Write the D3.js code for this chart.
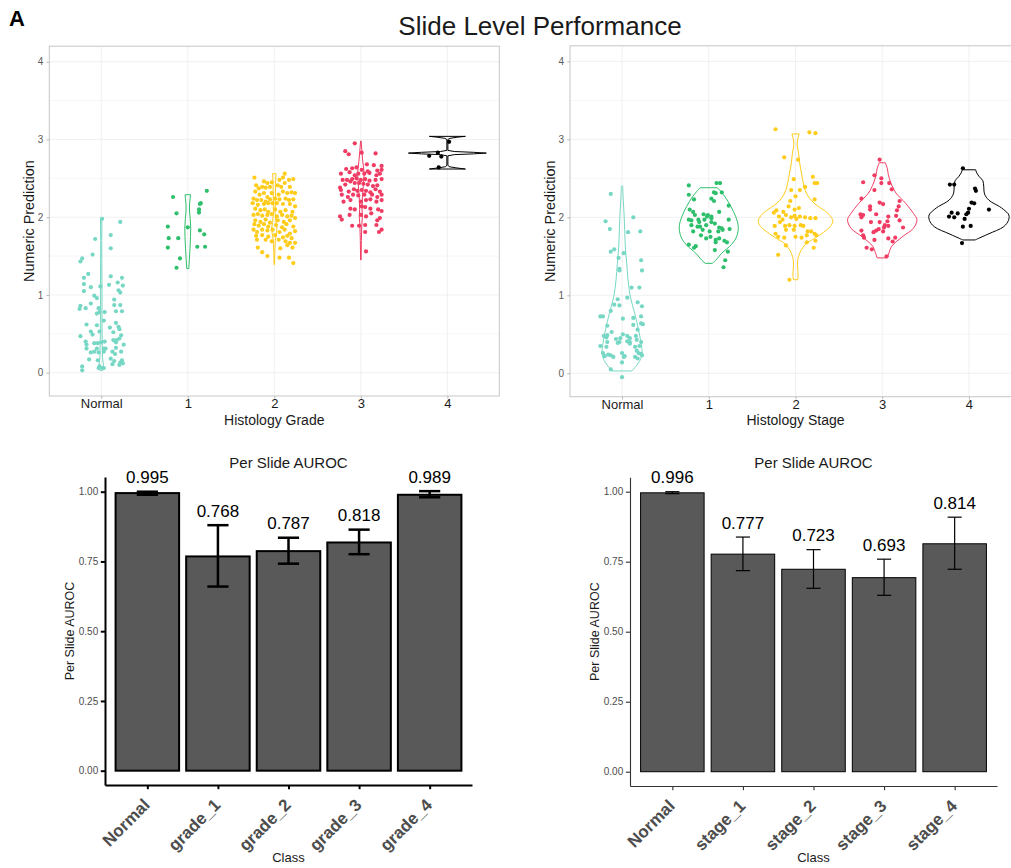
<!DOCTYPE html>
<html>
<head>
<meta charset="utf-8">
<script src="https://cdn.jsdelivr.net/npm/d3@7"></script>
<style>
body { margin: 0; background: #fff; }
svg { font-family: "Liberation Sans", Arial, Helvetica, sans-serif; }
</style>
</head>
<body>
<svg id="fig" width="1011" height="868"></svg>
<script>
// categories and colours
var violinCats = ['Normal', '1', '2', '3', '4'];
var groupColors = ['#76D7C4', '#2EBF6C', '#FFCC1C', '#F03C63', '#000000'];

// jittered points: [x jitter in category units, numeric prediction]
var gradeNormalPts = [[0.01,1.98],[0.22,1.94],[0.11,1.77],[-0.07,1.72],[0.11,1.60],[-0.10,1.52],[-0.22,1.47],[-0.24,1.43],[-0.15,1.27],[-0.20,1.22],[0.11,1.24],[0.24,1.22],[0.19,1.16],[-0.20,1.14],[-0.12,1.10],[-0.01,1.11],[0.09,1.13],[0.25,1.12],[-0.20,1.05],[-0.08,0.99],[-0.05,0.96],[0.20,1.06],[0.22,1.03],[0.15,0.94],[-0.24,0.86],[-0.25,0.82],[-0.18,0.83],[-0.12,0.89],[-0.03,0.83],[0.15,0.87],[0.22,0.87],[0.17,0.79],[0.24,0.79],[-0.05,0.76],[-0.02,0.78],[0.04,0.78],[-0.05,0.61],[0.03,0.67],[-0.17,0.62],[0.10,0.58],[0.17,0.64],[0.20,0.59],[0.21,0.56],[-0.24,0.47],[-0.12,0.53],[-0.10,0.49],[-0.02,0.53],[0.14,0.52],[0.23,0.48],[0.21,0.44],[0.18,0.42],[-0.18,0.40],[-0.17,0.36],[-0.08,0.38],[-0.04,0.38],[0.00,0.39],[0.04,0.40],[0.14,0.42],[0.17,0.39],[-0.17,0.31],[-0.05,0.31],[0.03,0.31],[0.05,0.31],[0.17,0.32],[0.26,0.36],[0.23,0.27],[-0.08,0.27],[-0.03,0.26],[0.03,0.27],[-0.12,0.26],[0.13,0.27],[0.16,0.24],[-0.14,0.17],[-0.04,0.16],[0.11,0.18],[0.15,0.15],[0.24,0.16],[0.22,0.13],[0.25,0.12],[-0.03,0.06],[-0.02,0.08],[0.01,0.06],[0.03,0.06],[0.13,0.11],[0.21,0.10],[-0.22,0.08],[-0.22,0.03]];
var grade1Pts = [[-0.17,2.26],[0.22,2.34],[0.14,2.17],[0.15,2.18],[0.13,2.10],[0.13,2.06],[-0.13,2.05],[-0.23,1.88],[0.00,1.87],[0.14,1.83],[0.19,1.78],[-0.22,1.73],[-0.11,1.73],[0.11,1.62],[0.20,1.62],[-0.23,1.61],[-0.09,1.47],[-0.13,1.35]];
var grade2Pts = [[-0.23,2.51],[-0.12,2.46],[-0.08,2.44],[-0.03,2.45],[0.06,2.48],[0.10,2.51],[0.12,2.56],[0.17,2.48],[0.22,2.49],[-0.21,2.41],[-0.18,2.37],[-0.14,2.39],[-0.10,2.38],[-0.05,2.39],[0.04,2.41],[0.08,2.39],[0.12,2.44],[0.18,2.39],[-0.22,2.33],[-0.17,2.29],[-0.12,2.31],[-0.08,2.26],[-0.03,2.31],[0.05,2.29],[0.10,2.33],[0.15,2.31],[0.20,2.32],[0.24,2.31],[-0.24,2.24],[-0.20,2.22],[-0.15,2.22],[-0.10,2.20],[-0.05,2.23],[0.01,2.24],[0.06,2.23],[0.13,2.24],[0.17,2.22],[0.22,2.23],[-0.25,2.18],[-0.19,2.16],[-0.12,2.17],[-0.07,2.18],[-0.02,2.18],[0.03,2.18],[0.10,2.17],[0.18,2.17],[0.24,2.14],[-0.22,2.11],[-0.16,2.09],[-0.11,2.10],[-0.07,2.07],[0.01,2.10],[0.07,2.07],[0.13,2.09],[0.21,2.07],[-0.24,2.03],[-0.19,2.04],[-0.14,2.02],[-0.08,2.03],[-0.03,2.04],[0.03,2.01],[0.09,2.03],[0.15,2.01],[0.20,2.02],[-0.22,1.96],[-0.16,1.94],[-0.10,1.97],[-0.05,1.93],[0.04,1.96],[0.11,1.94],[0.18,1.96],[0.24,1.99],[-0.23,1.91],[-0.18,1.89],[-0.12,1.91],[-0.07,1.88],[0.02,1.90],[0.09,1.87],[0.14,1.91],[0.22,1.88],[-0.24,1.84],[-0.20,1.81],[-0.14,1.84],[-0.08,1.83],[-0.02,1.84],[0.06,1.81],[0.12,1.84],[0.18,1.79],[0.24,1.82],[-0.21,1.76],[-0.14,1.77],[-0.07,1.75],[0.01,1.77],[0.10,1.74],[0.15,1.76],[0.20,1.73],[0.24,1.67],[-0.20,1.71],[-0.10,1.71],[-0.03,1.69],[0.05,1.71],[0.13,1.69],[0.18,1.67],[-0.19,1.61],[0.07,1.60],[0.15,1.64],[0.21,1.61],[-0.14,1.55],[-0.08,1.50],[0.06,1.48],[0.17,1.48],[0.22,1.41]];
var grade3Pts = [[-0.07,2.95],[-0.18,2.85],[-0.14,2.81],[0.01,2.83],[0.17,2.82],[0.07,2.68],[0.15,2.67],[0.24,2.66],[-0.17,2.62],[-0.10,2.63],[-0.05,2.64],[0.01,2.61],[0.08,2.59],[0.19,2.60],[0.24,2.61],[-0.23,2.56],[-0.13,2.58],[-0.07,2.54],[-0.03,2.56],[0.04,2.56],[0.10,2.57],[0.18,2.54],[0.22,2.56],[-0.21,2.48],[-0.16,2.48],[-0.10,2.49],[-0.05,2.50],[0.00,2.48],[0.05,2.49],[0.10,2.47],[0.17,2.48],[0.24,2.49],[-0.24,2.38],[-0.18,2.42],[-0.12,2.46],[-0.07,2.44],[-0.02,2.44],[0.03,2.43],[0.08,2.42],[0.14,2.40],[0.19,2.41],[-0.23,2.35],[-0.14,2.33],[-0.08,2.36],[-0.04,2.34],[0.01,2.35],[0.06,2.34],[0.11,2.32],[0.17,2.36],[0.22,2.33],[-0.22,2.29],[-0.15,2.26],[-0.09,2.29],[-0.03,2.28],[0.04,2.29],[0.13,2.29],[0.19,2.26],[0.24,2.29],[-0.20,2.20],[-0.12,2.22],[0.00,2.20],[0.06,2.22],[0.11,2.23],[0.18,2.20],[0.24,2.22],[-0.12,2.11],[-0.07,2.10],[0.01,2.14],[0.05,2.13],[0.11,2.11],[0.20,2.10],[0.24,2.08],[-0.24,2.01],[-0.22,1.97],[-0.13,2.03],[0.00,2.03],[0.06,2.01],[0.12,2.05],[0.19,1.96],[0.22,1.99],[-0.10,1.89],[-0.02,1.89],[0.05,1.90],[0.18,1.90],[0.05,1.81],[0.21,1.81],[0.24,1.84],[0.06,1.56]];
var grade4Pts = [[-0.21,2.79],[-0.11,2.83],[-0.07,2.78],[0.02,2.97],[-0.10,2.64]];

var stageNormalPts = [[-0.13,2.30],[0.13,2.00],[-0.19,1.95],[-0.14,1.85],[0.07,1.81],[0.21,1.82],[-0.13,1.56],[-0.09,1.59],[0.02,1.54],[-0.04,1.48],[0.22,1.45],[-0.03,1.34],[-0.03,1.32],[0.23,1.32],[0.11,1.10],[0.20,1.10],[-0.05,0.95],[0.06,0.97],[-0.09,0.88],[-0.03,0.87],[0.18,0.91],[0.23,0.86],[-0.13,0.80],[-0.22,0.73],[-0.25,0.73],[0.13,0.71],[0.22,0.73],[0.01,0.70],[0.22,0.64],[0.24,0.63],[-0.17,0.61],[0.13,0.62],[-0.12,0.53],[-0.21,0.48],[-0.18,0.46],[0.01,0.50],[0.06,0.48],[0.09,0.45],[0.18,0.56],[0.16,0.48],[-0.07,0.44],[-0.02,0.45],[-0.03,0.40],[-0.25,0.35],[-0.17,0.40],[-0.05,0.39],[0.06,0.41],[0.09,0.40],[0.17,0.43],[0.22,0.40],[0.20,0.35],[-0.22,0.26],[-0.20,0.22],[-0.16,0.24],[-0.10,0.21],[-0.13,0.23],[0.00,0.26],[0.03,0.22],[0.02,0.21],[0.17,0.29],[0.19,0.26],[0.22,0.25],[0.15,0.21],[0.23,0.23],[0.18,0.19],[-0.13,0.05],[0.00,0.14],[0.00,-0.05],[-0.18,0.34],[-0.17,0.49],[0.09,0.38],[0.15,0.34]];
var stage1Pts = [[-0.23,2.41],[0.09,2.44],[0.13,2.44],[-0.23,2.29],[0.06,2.32],[0.08,2.31],[0.15,2.32],[-0.17,2.23],[0.03,2.24],[0.06,2.21],[0.23,2.15],[-0.22,2.10],[-0.18,2.07],[-0.06,2.04],[-0.01,2.03],[-0.02,2.01],[0.12,2.07],[0.03,2.01],[-0.16,2.03],[-0.23,1.97],[-0.12,1.97],[-0.05,1.97],[0.03,1.99],[-0.20,1.96],[0.23,1.97],[-0.13,1.88],[-0.10,1.88],[-0.03,1.90],[0.03,1.94],[0.12,1.87],[0.15,1.86],[0.24,1.85],[-0.18,1.82],[-0.09,1.77],[0.01,1.82],[0.11,1.82],[0.16,1.84],[-0.03,1.73],[0.02,1.75],[0.08,1.71],[0.12,1.73],[0.18,1.70],[0.21,1.68],[-0.15,1.63],[-0.23,1.65],[-0.17,1.61],[0.08,1.68],[0.07,1.58],[0.22,1.56],[0.19,1.45],[0.17,1.36],[-0.11,1.94],[0.07,1.92],[-0.07,1.84],[-0.20,1.90]];
var stage2Pts = [[-0.23,3.13],[0.16,3.09],[0.23,3.08],[-0.13,2.77],[0.03,2.74],[0.20,2.52],[-0.02,2.49],[0.22,2.44],[0.25,2.44],[0.11,2.39],[-0.05,2.35],[0.05,2.35],[0.00,2.27],[-0.06,2.21],[0.22,2.23],[-0.08,2.14],[-0.01,2.10],[-0.22,2.09],[-0.25,2.06],[-0.14,2.07],[0.04,2.12],[-0.19,2.01],[-0.11,2.03],[-0.05,2.00],[-0.01,2.02],[0.05,2.01],[0.11,2.00],[0.17,1.99],[0.23,1.99],[0.01,1.98],[-0.15,1.97],[-0.18,1.94],[-0.24,1.89],[-0.12,1.89],[-0.07,1.90],[-0.01,1.89],[0.06,1.90],[0.09,1.89],[-0.11,1.84],[-0.02,1.84],[-0.23,1.79],[-0.20,1.75],[-0.13,1.74],[0.00,1.75],[0.13,1.77],[0.18,1.82],[0.22,1.79],[0.24,1.77],[0.23,1.70],[-0.11,1.64],[0.07,1.74],[0.13,1.68],[0.21,1.61],[-0.20,1.52],[-0.07,1.20],[0.14,1.82]];
var stage3Pts = [[-0.03,2.74],[-0.22,2.45],[-0.09,2.54],[-0.01,2.50],[0.08,2.44],[-0.01,2.44],[-0.09,2.35],[0.11,2.36],[-0.24,2.24],[-0.03,2.19],[0.01,2.17],[0.20,2.21],[-0.14,2.14],[-0.14,2.10],[0.19,2.14],[0.17,2.09],[-0.25,2.04],[-0.22,2.03],[-0.07,2.04],[0.07,2.01],[0.16,2.02],[-0.24,2.00],[-0.13,1.94],[-0.03,1.94],[0.06,1.95],[0.20,1.96],[0.03,1.90],[0.07,1.89],[0.02,1.87],[-0.04,1.85],[-0.07,1.83],[0.24,1.87],[-0.24,1.83],[-0.10,1.81],[0.01,1.82],[-0.22,1.77],[-0.21,1.74],[-0.09,1.71],[0.07,1.73],[0.15,1.74],[0.12,1.69],[-0.18,1.61],[-0.12,1.59],[0.05,1.50]];
var stage4Pts = [[-0.07,2.63],[-0.22,2.42],[-0.17,2.42],[0.07,2.37],[0.08,2.34],[0.03,2.19],[0.06,2.18],[0.00,2.11],[-0.01,2.06],[0.23,2.10],[-0.20,2.06],[-0.23,2.01],[-0.17,2.00],[-0.13,2.05],[-0.03,2.04],[-0.05,1.98],[-0.07,1.88],[0.02,1.89],[-0.08,1.67]];

// violin outlines: [numeric prediction, half width in category units]
var gradeNormalViolin = [[0.03,0.02],[0.06,0.03],[0.10,0.025],[0.20,0.015],[0.35,0.013],[0.50,0.010],[0.80,0.009],[1.10,0.009],[1.40,0.007],[1.70,0.006],[1.98,0.008]];
var grade1Violin = [[1.34,0.012],[1.45,0.018],[1.60,0.026],[1.75,0.032],[1.86,0.034],[1.98,0.028],[2.08,0.02],[2.16,0.02],[2.24,0.027],[2.29,0.031]];
var grade2Violin = [[1.39,0.003],[1.55,0.006],[1.70,0.012],[1.80,0.025],[1.86,0.03],[1.93,0.02],[2.05,0.01],[2.20,0.012],[2.35,0.014],[2.48,0.016],[2.56,0.02]];
var grade3Violin = [[1.45,0.003],[1.70,0.006],[1.90,0.011],[2.00,0.018],[2.10,0.014],[2.25,0.018],[2.40,0.028],[2.52,0.036],[2.62,0.034],[2.72,0.022],[2.85,0.012],[2.98,0.003]];
var grade4Violin = [[2.62,0.208],[2.635,0.10],[2.65,0.02],[2.67,0.006],[2.79,0.006],[2.805,0.08],[2.815,0.3],[2.825,0.45],[2.835,0.3],[2.845,0.08],[2.86,0.006],[3.00,0.006],[3.015,0.03],[3.03,0.12],[3.04,0.208]];

var stageNormalViolin = [[0.03,0.115],[0.09,0.16],[0.15,0.20],[0.26,0.23],[0.38,0.22],[0.56,0.19],[0.77,0.146],[0.98,0.096],[1.20,0.069],[1.41,0.054],[1.62,0.038],[1.84,0.031],[2.05,0.023],[2.26,0.012],[2.40,0.008]];
var stage1Violin = [[1.41,0.04],[1.45,0.08],[1.54,0.15],[1.65,0.26],[1.75,0.32],[1.88,0.34],[2.01,0.31],[2.14,0.255],[2.26,0.19],[2.33,0.14],[2.38,0.10]];
var stage2Violin = [[1.20,0.023],[1.26,0.03],[1.35,0.025],[1.45,0.025],[1.54,0.048],[1.62,0.09],[1.67,0.13],[1.73,0.22],[1.79,0.30],[1.88,0.40],[1.95,0.43],[2.02,0.40],[2.09,0.33],[2.15,0.25],[2.22,0.18],[2.30,0.13],[2.39,0.10],[2.50,0.08],[2.61,0.061],[2.72,0.045],[2.82,0.036],[2.93,0.019],[3.00,0.025],[3.07,0.042]];
var stage3Violin = [[1.48,0.058],[1.55,0.08],[1.63,0.11],[1.75,0.23],[1.86,0.36],[1.97,0.40],[2.05,0.36],[2.18,0.27],[2.31,0.16],[2.44,0.10],[2.55,0.07],[2.62,0.06],[2.70,0.035]];
var stage4Violin = [[1.71,0.07],[1.75,0.15],[1.79,0.23],[1.88,0.40],[1.96,0.455],[2.03,0.46],[2.10,0.40],[2.14,0.35],[2.22,0.23],[2.30,0.18],[2.40,0.17],[2.47,0.16],[2.52,0.12],[2.57,0.09],[2.61,0.077]];

// per slide AUROC with confidence intervals
var gradeClasses = ['Normal', 'grade_1', 'grade_2', 'grade_3', 'grade_4'];
var gradeAuroc = [0.995, 0.768, 0.787, 0.818, 0.989];
var gradeLower = [0.989, 0.660, 0.742, 0.776, 0.980];
var gradeUpper = [1.000, 0.880, 0.835, 0.864, 1.002];

var stageClasses = ['Normal', 'stage_1', 'stage_2', 'stage_3', 'stage_4'];
var stageAuroc = [0.996, 0.777, 0.723, 0.693, 0.814];
var stageLower = [0.993, 0.718, 0.655, 0.630, 0.723];
var stageUpper = [1.000, 0.838, 0.793, 0.759, 0.909];

var svg = d3.select('#fig');

//panel letter and figure title
svg.append('text')
    .attr('x', 9).attr('y', 26)
    .style('font-size', '22px').style('font-weight', 700)
    .text('A');

svg.append('text')
    .attr('x', 540).attr('y', 35)
    .attr('text-anchor', 'middle')
    .attr('fill', '#1a1a1a')
    .style('font-size', '26px')
    .text('Slide Level Performance');

//violin + jitter panel
function drawViolinPanel(p) {
    var g = svg.append('g');
    var right = p.left + p.width, bottom = p.top + p.height;

    var x = d3.scalePoint().domain(violinCats).range([p.left, right]).padding(0.6);
    var y = d3.scaleLinear().domain([-0.3, 4.2]).range([bottom, p.top]);
    var step = x.step();

    //grid lines
    g.selectAll('.minor').data([0.5, 1.5, 2.5, 3.5]).enter().append('line')
        .attr('x1', p.left).attr('x2', right)
        .attr('y1', function(d) { return y(d); }).attr('y2', function(d) { return y(d); })
        .attr('stroke', '#f4f4f4').attr('stroke-width', 0.8);
    g.selectAll('.major').data([0, 1, 2, 3, 4]).enter().append('line')
        .attr('x1', p.left).attr('x2', right)
        .attr('y1', function(d) { return y(d); }).attr('y2', function(d) { return y(d); })
        .attr('stroke', '#eeeeee').attr('stroke-width', 0.9);
    g.selectAll('.vgrid').data(violinCats).enter().append('line')
        .attr('x1', function(d) { return x(d); }).attr('x2', function(d) { return x(d); })
        .attr('y1', p.top).attr('y2', bottom)
        .attr('stroke', '#eeeeee').attr('stroke-width', 0.9);

    p.groups.forEach(function(grp, i) {
        var cx = x(violinCats[i]);
        var area = d3.area().curve(p.curve)
            .y(function(d) { return y(d[0]); })
            .x0(function(d) { return cx - d[1] * step; })
            .x1(function(d) { return cx + d[1] * step; });

        g.append('path')
            .datum(grp.violin)
            .attr('d', area)
            .attr('fill', 'none')
            .attr('stroke', groupColors[i])
            .attr('stroke-width', 1);

        g.selectAll(null).data(grp.pts).enter().append('circle')
            .attr('cx', function(d) { return cx + d[0] * step; })
            .attr('cy', function(d) { return y(d[1]); })
            .attr('r', 2.1)
            .attr('fill', groupColors[i]);
    });

    //panel border
    g.append('rect')
        .attr('x', p.left).attr('y', p.top)
        .attr('width', p.width).attr('height', p.height)
        .attr('fill', 'none').attr('stroke', '#c6c6c6').attr('stroke-width', 1);

    var yAxis = g.append('g')
        .attr('transform', 'translate(' + p.left + ',0)')
        .call(d3.axisLeft(y).tickValues([0, 1, 2, 3, 4]).tickSize(2.75).tickPadding(3.2).tickFormat(d3.format('d')));
    yAxis.select('.domain').remove();
    yAxis.selectAll('line').attr('stroke', '#b8b8b8');
    yAxis.selectAll('text').attr('fill', '#5a5a5a').style('font-size', '10px').style('font-family', 'inherit');

    var xAxis = g.append('g')
        .attr('transform', 'translate(0,' + bottom + ')')
        .call(d3.axisBottom(x).tickSize(2.75).tickPadding(0));
    xAxis.select('.domain').remove();
    xAxis.selectAll('line').attr('stroke', '#b8b8b8');
    xAxis.selectAll('text').attr('fill', '#1a1a1a').style('font-size', '13px').style('font-family', 'inherit');

    //axis titles
    g.append('text')
        .attr('x', p.left + p.width / 2).attr('y', 424.5)
        .attr('text-anchor', 'middle').attr('fill', '#1a1a1a')
        .style('font-size', '14px')
        .text(p.xTitle);
    g.append('text')
        .attr('transform', 'translate(' + p.yTitleX + ',' + (p.top + p.height / 2) + ') rotate(-90)')
        .attr('text-anchor', 'middle').attr('fill', '#1a1a1a')
        .style('font-size', '14.4px')
        .text('Numeric Prediction');
}

drawViolinPanel({
    left: 49.3, top: 46.2, width: 450, height: 349.8,
    xTitle: 'Histology Grade', yTitleX: 34,
    curve: d3.curveLinear,
    groups: [
        {pts: gradeNormalPts, violin: gradeNormalViolin},
        {pts: grade1Pts, violin: grade1Violin},
        {pts: grade2Pts, violin: grade2Violin},
        {pts: grade3Pts, violin: grade3Violin},
        {pts: grade4Pts, violin: grade4Violin}
    ]
});

drawViolinPanel({
    left: 570, top: 45.8, width: 451, height: 350.9,
    xTitle: 'Histology Stage', yTitleX: 555,
    curve: d3.curveCatmullRom.alpha(0.5),
    groups: [
        {pts: stageNormalPts, violin: stageNormalViolin},
        {pts: stage1Pts, violin: stage1Violin},
        {pts: stage2Pts, violin: stage2Violin},
        {pts: stage3Pts, violin: stage3Violin},
        {pts: stage4Pts, violin: stage4Violin}
    ]
});

//bar chart with error bars
function drawBarPanel(p) {
    var g = svg.append('g');
    var x = d3.scalePoint().domain(p.classes).range([p.left, p.right]).padding(0.6);
    var y = d3.scaleLinear().domain(p.yDomain).range([p.bottom, p.top]);
    var step = x.step();
    var barW = step * 0.9;

    var rows = p.classes.map(function(c, i) {
        return {cls: c, val: p.values[i], lo: p.lower[i], hi: p.upper[i]};
    });

    g.selectAll('.bar').data(rows).enter().append('rect')
        .attr('x', function(d) { return x(d.cls) - barW / 2; })
        .attr('y', function(d) { return y(d.val); })
        .attr('width', barW)
        .attr('height', function(d) { return y(0) - y(d.val); })
        .attr('fill', '#595959')
        .attr('stroke', '#000')
        .attr('stroke-width', p.barStroke);

    var capW = step * p.cap;
    var err = g.selectAll('.err').data(rows).enter().append('g');
    err.append('line')
        .attr('x1', function(d) { return x(d.cls); }).attr('x2', function(d) { return x(d.cls); })
        .attr('y1', function(d) { return y(d.lo); }).attr('y2', function(d) { return y(d.hi); });
    err.append('line')
        .attr('x1', function(d) { return x(d.cls) - capW / 2; }).attr('x2', function(d) { return x(d.cls) + capW / 2; })
        .attr('y1', function(d) { return y(d.lo); }).attr('y2', function(d) { return y(d.lo); });
    err.append('line')
        .attr('x1', function(d) { return x(d.cls) - capW / 2; }).attr('x2', function(d) { return x(d.cls) + capW / 2; })
        .attr('y1', function(d) { return y(d.hi); }).attr('y2', function(d) { return y(d.hi); });
    err.selectAll('line').attr('stroke', '#000').attr('stroke-width', p.errStroke);

    //value labels above the error bars
    g.selectAll('.val').data(rows).enter().append('text')
        .attr('x', function(d) { return x(d.cls); })
        .attr('y', function(d) { return y(d.hi) - 8.5; })
        .attr('text-anchor', 'middle')
        .style('font-size', '17px')
        .text(function(d) { return d3.format('.3f')(d.val); });

    var yAxis = g.append('g')
        .attr('transform', 'translate(' + p.left + ',0)')
        .call(d3.axisLeft(y).tickValues([0, 0.25, 0.5, 0.75, 1]).tickFormat(d3.format('.2f'))
            .tickSize(4.2).tickSizeOuter(0).tickPadding(2.6));
    yAxis.selectAll('text').attr('fill', '#4d4d4d').style('font-size', '10px').style('font-family', 'inherit');

    var xAxis = g.append('g')
        .attr('transform', 'translate(0,' + p.bottom + ')')
        .call(d3.axisBottom(x).tickSize(4.2).tickSizeOuter(0));
    xAxis.selectAll('text')
        .attr('x', 0).attr('y', 0).attr('dy', 0)
        .attr('transform', 'translate(3,21) rotate(-45)')
        .attr('text-anchor', 'end')
        .attr('fill', '#4d4d4d')
        .style('font-size', '17px').style('font-weight', 700).style('font-family', 'inherit');

    [yAxis, xAxis].forEach(function(a) {
        a.select('.domain').attr('stroke', p.axisColor).attr('stroke-width', p.axisStroke);
        a.selectAll('.tick line').attr('stroke', p.axisColor).attr('stroke-width', p.axisStroke);
    });

    var cx = (p.left + p.right) / 2;
    g.append('text')
        .attr('x', cx).attr('y', 468)
        .attr('text-anchor', 'middle').attr('fill', '#1a1a1a')
        .style('font-size', '15px')
        .text('Per Slide AUROC');
    g.append('text')
        .attr('x', cx).attr('y', 862)
        .attr('text-anchor', 'middle').attr('fill', '#1a1a1a')
        .style('font-size', '13px')
        .text('Class');
    g.append('text')
        .attr('transform', 'translate(' + p.yTitleX + ',' + ((p.top + p.bottom) / 2) + ') rotate(-90)')
        .attr('text-anchor', 'middle').attr('fill', '#1a1a1a')
        .style('font-size', '12.5px')
        .text('Per Slide AUROC');
}

drawBarPanel({
    left: 105, right: 472, top: 477, bottom: 785,
    yDomain: [-0.0513, 1.0527], yTitleX: 73.5,
    classes: gradeClasses, values: gradeAuroc, lower: gradeLower, upper: gradeUpper,
    barStroke: 2, errStroke: 2.5, cap: 0.3, axisStroke: 2, axisColor: '#000'
});

drawBarPanel({
    left: 630, right: 997, top: 477.3, bottom: 786,
    yDomain: [-0.051, 1.0514], yTitleX: 598.5,
    classes: stageClasses, values: stageAuroc, lower: stageLower, upper: stageUpper,
    barStroke: 1, errStroke: 1.2, cap: 0.2, axisStroke: 1.1, axisColor: '#333'
});
</script>
</body>
</html>
